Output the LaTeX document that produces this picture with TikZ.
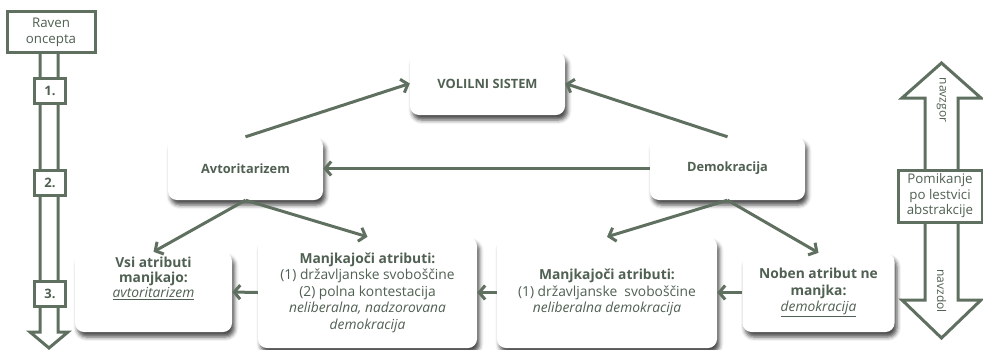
\documentclass[tikz,border=0pt]{standalone}
\usepackage{fontspec}
\setmainfont{Open Sans}
\usetikzlibrary{arrows.meta,shadows.blur}
\definecolor{lc}{RGB}{96,112,96}
\definecolor{tc}{RGB}{80,96,82}
\begin{document}
\begin{tikzpicture}[x=1pt,y=-1pt,
  box/.style={rounded corners=9pt, fill=white,
    blur shadow={shadow xshift=2.5pt, shadow yshift=-5pt, shadow blur radius=4pt, shadow opacity=70},
    inner sep=0pt, text=tc, align=center, font=\fontsize{13.8}{16.5}\selectfont},
  headbox/.style={box, font=\bfseries\fontsize{12.8}{15}\selectfont},
  txt/.style={text=tc, align=center, inner sep=0pt, font=\fontsize{13.8}{15}\selectfont},
  arr/.style={draw=lc, line width=3pt, -{Straight Barb[length=6pt,width=14pt]}},
  framebox/.style={draw=lc, line width=3pt, fill=white, text=tc, inner sep=0pt, align=center},
  hollow/.style={draw=lc, line width=3pt, fill=white, line join=miter}
]
\useasboundingbox (0,0) rectangle (983,349);

% left level arrow
\draw[hollow] (40,52) -- (40,332) -- (30,332) -- (49,348) -- (68,332) -- (58,332) -- (58,52);
\node[framebox, minimum width=88pt, minimum height=41pt, font=\fontsize{13.3}{16}\selectfont] (raven) at (51,32) {Raven\\oncepta};
\node[framebox, minimum width=31pt, minimum height=25pt, font=\bfseries\fontsize{13}{15}\selectfont] (l1) at (50,91) {1.};
\node[framebox, minimum width=31pt, minimum height=25pt, font=\bfseries\fontsize{13}{15}\selectfont] (l2) at (50,183) {2.};
\node[framebox, minimum width=31pt, minimum height=25pt, font=\bfseries\fontsize{13}{15}\selectfont] (l3) at (50,294) {3.};

% right abstraction arrow
\draw[hollow] (925,170) -- (925,98) -- (902,98) -- (941.5,63) -- (981,98) -- (958,98) -- (958,300) -- (981,300) -- (941.5,338) -- (902,300) -- (925,300) -- cycle;
\node[framebox, minimum width=84pt, minimum height=52pt, font=\fontsize{13.3}{15.5}\selectfont] (pom) at (940,196) {Pomikanje\\po lestvici\\abstrakcije};
\node[txt, rotate=-90, font=\fontsize{12}{14}\selectfont] (gor) at (941.5,100) {navzgor};
\node[txt, rotate=-90, font=\fontsize{12}{14}\selectfont] (dol) at (941.5,291) {navzdol};

% boxes
\node[headbox, minimum width=155pt, minimum height=63pt] (vol) at (487.5,83.5) {VOLILNI SISTEM};
\node[headbox, minimum width=155pt, minimum height=63pt] (avt) at (245.5,168.5) {Avtoritarizem};
\node[headbox, minimum width=155pt, minimum height=63pt] (dem) at (727.5,168.5) {Demokracija};
\node[box, minimum width=157pt, minimum height=80pt] (vsi) at (153.5,292) {};
\node[txt] (vsit) at (153.5,278) {\textbf{Vsi atributi}\\\textbf{manjkajo:}\\\textit{\underline{avtoritarizem}}};
\node[box, minimum width=219pt, minimum height=111pt] (m12) at (367.5,292.5) {\textbf{Manjkajoči atributi:}\\(1) državljanske svoboščine\\(2) polna kontestacija\\\textit{neliberalna, nadzorovana}\\\textit{demokracija}};
\node[box, minimum width=220pt, minimum height=111pt] (m1) at (607,292.5) {\textbf{Manjkajoči atributi:}\\(1) državljanske\ \ svoboščine\\\textit{neliberalna demokracija}};
\node[box, minimum width=152pt, minimum height=79pt] (nob) at (818.5,292.5) {\textbf{Noben atribut ne}\\\textbf{manjka:}\\\textit{\underline{demokracija}}};

% connectors
\draw[arr] (avt.north) -- (vol.west);
\draw[arr] (dem.north) -- (vol.east);
\draw[arr] (dem.west) -- (avt.east);
\draw[arr] (avt.south) -- (vsi.north);
\draw[arr] (avt.south) -- (m12.north);
\draw[arr] (dem.south) -- (m1.north);
\draw[arr] (dem.south) -- (nob.north);
\draw[arr] (m12.west) -- (vsi.east);
\draw[arr] (m1.west) -- (m12.east);
\draw[arr] (nob.west) -- (m1.east);
\end{tikzpicture}
\end{document}
